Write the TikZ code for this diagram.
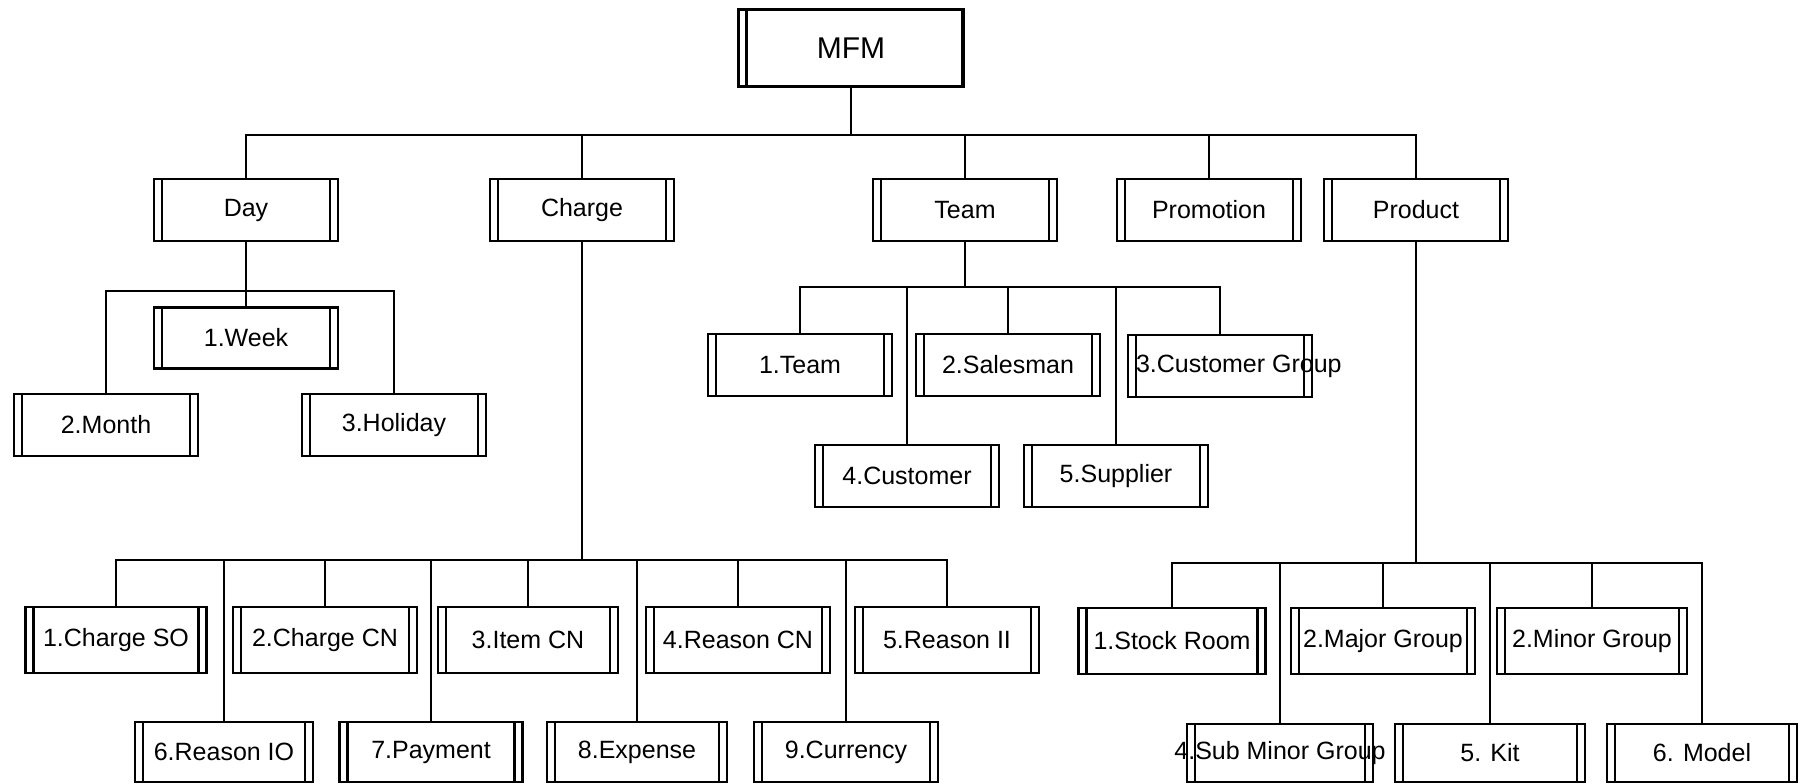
\documentclass[tikz,border=0pt]{standalone}
\usepackage{fontspec}
\setmainfont{Liberation Sans}

\tikzset{
  entity/.style={draw, line width=2.8bp, minimum width=184bp, minimum height=62bp,
    inner sep=0pt, font=\fontsize{25bp}{30bp}\selectfont,
    path picture={
      \draw[line width=2.2bp]
        ([xshift=8bp]path picture bounding box.north west) -- ([xshift=8bp]path picture bounding box.south west)
        ([xshift=-8bp]path picture bounding box.north east) -- ([xshift=-8bp]path picture bounding box.south east);
    }},
  root/.style={draw, line width=2.8bp, minimum width=225bp, minimum height=77bp,
    inner sep=0pt, font=\fontsize{30bp}{36bp}\selectfont,
    path picture={
      \draw[line width=2.2bp]
        ([xshift=8bp]path picture bounding box.north west) -- ([xshift=8bp]path picture bounding box.south west);
      \draw[line width=3bp]
        ([xshift=-1.5bp]path picture bounding box.north east) -- ([xshift=-1.5bp]path picture bounding box.south east);
    }},
  link/.style={line width=2bp},
}

\begin{document}
\begin{tikzpicture}[x=1bp, y=-1bp]

  \useasboundingbox (0,0) rectangle (1804,784);

  % Root
  \node[root] (mfm) at (851,48) {MFM};

  % Level 1
  \node[entity] (day)     at (246,210) {Day};
  \node[entity] (charge)  at (582,210) {Charge};
  \node[entity] (team)    at (965,210) {Team};
  \node[entity] (promo)   at (1209,210) {Promotion};
  \node[entity] (product) at (1416,210) {Product};

  % Day
  \node[entity, minimum height=61bp] (week)    at (246,338) {1.Week};
  \node[entity, minimum height=62bp] (month)   at (106,425) {2.Month};
  \node[entity, minimum height=62bp] (holiday) at (394,425) {3.Holiday};

  % Team
  \node[entity] (team1)     at (800,365) {1.Team};
  \node[entity] (salesman)  at (1008,365) {2.Salesman};
  \node[entity] (custgroup) at (1220,366) {\hbox to 168bp{3.Customer Group\hss}};
  \node[entity] (customer)  at (907,476) {4.Customer};
  \node[entity] (supplier)  at (1116,476) {5.Supplier};

  % Charge
  \node[entity, minimum width=181bp, minimum height=66bp] (chso)     at (116,640) {1.Charge SO};
  \node[entity, minimum height=66bp] (chcn)     at (325,640) {2.Charge CN};
  \node[entity, minimum width=180bp, minimum height=66bp] (itemcn)   at (528,640) {3.Item CN};
  \node[entity, minimum height=66bp] (reasoncn) at (738,640) {4.Reason CN};
  \node[entity, minimum height=66bp] (reasonii) at (947,640) {5.Reason II};
  \node[entity, minimum width=178bp, minimum height=60bp] (reasonio) at (224,752) {6.Reason IO};
  \node[entity, minimum width=183bp, minimum height=60bp] (payment)  at (431,752) {7.Payment};
  \node[entity, minimum width=180bp, minimum height=60bp] (expense)  at (637,752) {8.Expense};
  \node[entity, minimum height=60bp] (currency) at (846,752) {9.Currency};

  % Product
  \node[entity, minimum width=187bp, minimum height=66bp] (stock) at (1172,641) {1.Stock Room};
  \node[entity, minimum height=66bp] (major) at (1383,641) {2.Major Group};
  \node[entity, minimum width=190bp, minimum height=66bp] (minor) at (1592,641) {2.Minor Group};
  \node[entity, minimum width=186bp, minimum height=58bp] (subminor) at (1280,753) {\hbox to 170bp{\hss 4.Sub Minor Group\hss}};
  \node[entity, minimum width=190bp, minimum height=58bp] (kit)   at (1490,753) {5. Kit};
  \node[entity, minimum width=190bp, minimum height=58bp] (model) at (1702,753) {6. Model};

  % Bars
  \coordinate (topbar)     at (0,135);
  \coordinate (daybar)     at (0,291);
  \coordinate (teambar)    at (0,287);
  \coordinate (chargebar)  at (0,560);
  \coordinate (productbar) at (0,563);

  % Edges
  \draw[link] (mfm.south) -- (mfm.south |- topbar);
  \draw[link] (day.north) |- (topbar -| product.north) -- (product.north);
  \foreach \n in {charge,team,promo}
    \draw[link] (\n.north) -- (\n.north |- topbar);

  \draw[link] (day.south) -- (week.north);
  \draw[link] (month.north) |- (daybar -| holiday.north) -- (holiday.north);

  \draw[link] (team.south) -- (team.south |- teambar);
  \draw[link] (team1.north) |- (teambar -| custgroup.north) -- (custgroup.north);
  \foreach \n in {salesman,customer,supplier}
    \draw[link] (\n.north) -- (\n.north |- teambar);

  \draw[link] (charge.south) -- (charge.south |- chargebar);
  \draw[link] (chso.north) |- (chargebar -| reasonii.north) -- (reasonii.north);
  \foreach \n in {chcn,itemcn,reasoncn,reasonio,payment,expense,currency}
    \draw[link] (\n.north) -- (\n.north |- chargebar);

  \draw[link] (product.south) -- (product.south |- productbar);
  \draw[link] (stock.north) |- (productbar -| model.north) -- (model.north);
  \foreach \n in {major,minor,subminor,kit}
    \draw[link] (\n.north) -- (\n.north |- productbar);

\end{tikzpicture}
\end{document}
